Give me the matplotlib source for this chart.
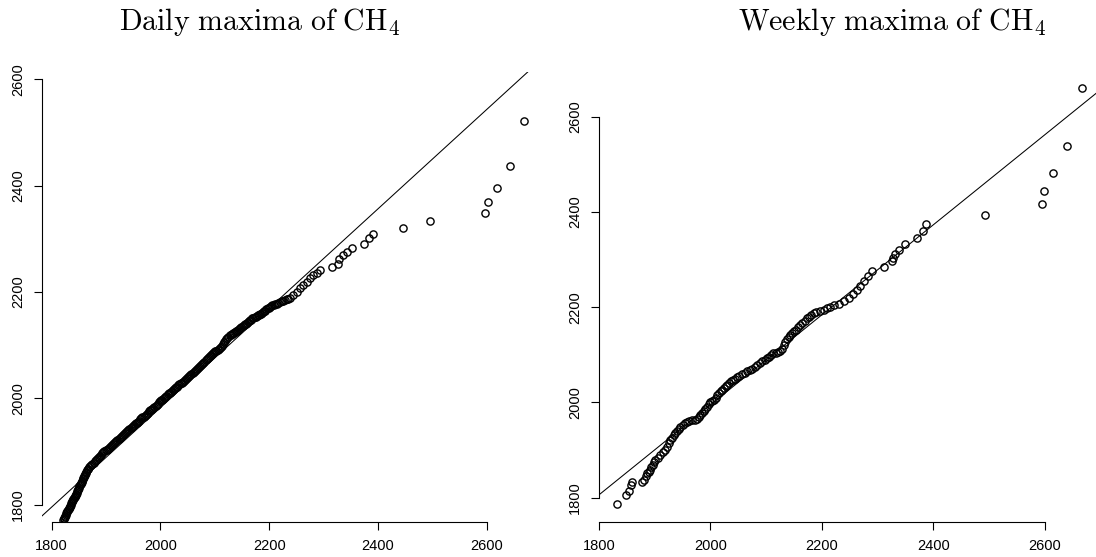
import matplotlib
matplotlib.use("Agg")
import matplotlib.pyplot as plt

# ---- data read off the picture (sorted model vs empirical quantiles) ----
# daily maxima, x = model quantile, y = empirical quantile
daily_x = [
    1821, 1822, 1823, 1824, 1825, 1826, 1827, 1828, 1829, 1830,
    1831, 1832, 1833, 1834, 1835, 1836, 1837, 1838, 1839, 1840,
    1841, 1842, 1843, 1844, 1845, 1846, 1847, 1848, 1849, 1850,
    1851, 1852, 1853, 1854, 1855, 1856, 1857, 1858, 1859, 1860,
    1861, 1862, 1863, 1864, 1865, 1866, 1867,
    1869, 1871, 1873, 1875, 1877, 1879, 1881, 1883, 1885, 1887,
    1889, 1891, 1893, 1895, 1897, 1899, 1901, 1903, 1905, 1907,
    1909, 1911,
    1913, 1915, 1917, 1919, 1921, 1923, 1925, 1927, 1929, 1931,
    1933, 1935, 1937, 1939, 1941, 1943, 1945, 1947, 1949, 1951,
    1953, 1955, 1957, 1959, 1961, 1963, 1965, 1967, 1969, 1971,
    1973, 1975, 1977, 1979, 1981, 1983, 1985, 1987, 1989, 1991,
    1993, 1995, 1997, 1999, 2001, 2003, 2005, 2007, 2009, 2011,
    2013, 2015, 2017, 2019, 2021, 2023, 2025, 2027, 2029, 2031,
    2033, 2035, 2037, 2039, 2041, 2043, 2045, 2047, 2049, 2051,
    2053, 2055, 2057, 2059, 2061, 2063, 2065, 2067, 2069, 2071,
    2073, 2075, 2077, 2079, 2081, 2083, 2085, 2087, 2089, 2091,
    2093, 2095, 2097, 2099, 2101, 2103, 2105, 2107, 2109, 2111,
    2113, 2115, 2117, 2119, 2121, 2123, 2125, 2127, 2129, 2131,
    2133, 2135, 2137, 2139, 2141, 2143, 2145, 2147, 2149, 2151,
    2153, 2155, 2157, 2159, 2161, 2163, 2165, 2167, 2169, 2171,
    2173, 2175, 2177, 2179, 2181, 2183, 2185, 2187, 2189, 2191,
    2193, 2195, 2197, 2199, 2201, 2203, 2205, 2208, 2211, 2214,
    2217, 2220, 2223, 2226, 2229, 2232, 2235,
    2238, 2244, 2251, 2257, 2263, 2269, 2275, 2281, 2287, 2293,
    2316, 2327, 2329, 2335, 2343, 2352, 2375, 2384, 2390, 2446,
    2496, 2597, 2603, 2618, 2643, 2669,
]
daily_y = [
    1771, 1773, 1775, 1777, 1779, 1781, 1784, 1786, 1788, 1790,
    1792, 1794, 1796, 1798, 1800, 1802, 1804, 1806, 1808, 1810,
    1812, 1814, 1816, 1818, 1820, 1822, 1825, 1827, 1829, 1832,
    1834, 1836, 1839, 1841, 1843, 1845, 1848, 1850, 1852, 1854,
    1856, 1858, 1860, 1862, 1864, 1866, 1867,
    1870, 1872, 1874, 1877, 1879, 1881, 1883, 1885, 1887, 1889,
    1892, 1894, 1896, 1898, 1900, 1902, 1903, 1905, 1907, 1908,
    1910, 1912,
    1914, 1916, 1918, 1919, 1921, 1923, 1925, 1927, 1929, 1931,
    1933, 1934, 1936, 1938, 1940, 1942, 1944, 1945, 1947, 1949,
    1951, 1953, 1954, 1956, 1958, 1960, 1962, 1964, 1965, 1967,
    1969, 1971, 1973, 1975, 1977, 1978, 1980, 1982, 1984, 1986,
    1988, 1990, 1992, 1994, 1996, 1997, 1999, 2001, 2003, 2005,
    2007, 2009, 2010, 2012, 2014, 2016, 2017, 2019, 2021, 2022,
    2024, 2026, 2028, 2029, 2031, 2033, 2034, 2036, 2038, 2040,
    2042, 2044, 2046, 2048, 2050, 2052, 2054, 2055, 2057, 2059,
    2061, 2063, 2065, 2067, 2069, 2071, 2073, 2075, 2077, 2079,
    2081, 2083, 2085, 2086, 2088, 2089, 2091, 2092, 2094, 2096,
    2099, 2102, 2105, 2108, 2111, 2114, 2116, 2118, 2119, 2120,
    2122, 2123, 2124, 2126, 2127, 2128, 2130, 2132, 2134, 2135,
    2137, 2139, 2140, 2142, 2144, 2146, 2147, 2148, 2150, 2151,
    2152, 2153, 2154, 2156, 2157, 2158, 2159, 2160, 2162, 2164,
    2165, 2167, 2169, 2170, 2172, 2173, 2175, 2176, 2177, 2178,
    2180, 2181, 2182, 2183, 2185, 2186, 2187,
    2188, 2194, 2200, 2207, 2213, 2219, 2226, 2232, 2236, 2241,
    2246, 2253, 2261, 2269, 2275, 2283, 2290, 2301, 2309, 2320,
    2333, 2349, 2369, 2396, 2436, 2522,
]

# weekly maxima
weekly_x = [
    1833, 1849, 1853, 1858, 1860, 1878, 1881, 1884, 1886, 1889,
    1892, 1894, 1896, 1899, 1901, 1905, 1910, 1914, 1918, 1922,
    1925, 1928, 1931, 1934, 1937, 1940, 1943, 1946, 1950, 1954,
    1958, 1962, 1967, 1972, 1976, 1979, 1982, 1985, 1988, 1991,
    1994, 1997, 2000, 2003, 2006, 2009, 2012, 2015, 2018, 2021,
    2024, 2027, 2030, 2033, 2036, 2040, 2044, 2048, 2052, 2056,
    2061, 2066, 2070, 2074, 2079, 2084, 2088, 2093, 2097, 2101,
    2105, 2109, 2113, 2117, 2121, 2125, 2128, 2131, 2134, 2137,
    2140, 2143, 2146, 2149, 2153, 2157, 2161, 2165, 2169, 2173,
    2177, 2181, 2185, 2190, 2197, 2204, 2209, 2215, 2222, 2230,
    2239, 2248, 2255, 2263, 2269, 2275, 2282, 2290, 2312, 2325,
    2327, 2331, 2339, 2349, 2371, 2381, 2387, 2493, 2594, 2599,
    2615, 2640, 2666,
]
weekly_y = [
    1786, 1805, 1815, 1826, 1832, 1834, 1838, 1845, 1851, 1855,
    1858, 1864, 1869, 1874, 1879, 1884, 1890, 1896, 1901, 1907,
    1914, 1921, 1926, 1931, 1935, 1940, 1945, 1949, 1953, 1957,
    1960, 1962, 1963, 1964, 1965, 1969, 1973, 1977, 1982, 1987,
    1991, 1996, 2000, 2004, 2005, 2010, 2015, 2019, 2023, 2026,
    2030, 2034, 2037, 2040, 2044, 2047, 2050, 2053, 2056, 2059,
    2062, 2065, 2068, 2071, 2075, 2079, 2082, 2086, 2089, 2093,
    2096, 2099, 2103, 2104, 2105, 2107, 2113, 2121, 2127, 2133,
    2138, 2142, 2145, 2149, 2153, 2158, 2163, 2167, 2172, 2177,
    2180, 2184, 2187, 2189, 2191, 2195, 2198, 2201, 2204, 2207,
    2212, 2219, 2227, 2236, 2245, 2254, 2265, 2275, 2284, 2296,
    2303, 2311, 2320, 2333, 2345, 2359, 2375, 2394, 2416, 2444,
    2481, 2539, 2661,
]

# reference lines (intercept, slope)
daily_line = (112.2, 0.935)
weekly_line = (104.1, 0.9455)

ticks = [1800, 2000, 2200, 2400, 2600]
titles = [r"$\mathrm{Daily\ maxima\ of\ CH}_4$", r"$\mathrm{Weekly\ maxima\ of\ CH}_4$"]

plt.rcParams["font.family"] = ["Liberation Sans", "DejaVu Sans"]
plt.rcParams["mathtext.fontset"] = "cm"

W, H = 1096, 557
fig = plt.figure(figsize=(W / 100, H / 100), dpi=100)


def px_axes(left, right, top, bottom):
    # axes box given in pixels of the output image
    return fig.add_axes([left / W, 1 - bottom / H, (right - left) / W, (bottom - top) / H])


ax1 = px_axes(42, 543, 72, 522)
ax1.set_xlim(1782.2, 2703.5)
ax1.set_ylim(1767.1, 2613.7)

ax2 = px_axes(599, 1100, 72, 521.7)
ax2.set_xlim(1800.9, 2698.7)
ax2.set_ylim(1749.6, 2693.9)

panels = [
    (ax1, daily_x, daily_y, daily_line),
    (ax2, weekly_x, weekly_y, weekly_line),
]

for ax, xs, ys, (a, b) in panels:
    ax.plot(xs, ys, ls="none", marker="o", ms=5.2, mfc="none", mec="black", mew=1.0)
    ax.axline((1800, a + b * 1800), slope=b, color="black", lw=0.75)

    ax.spines["top"].set_visible(False)
    ax.spines["right"].set_visible(False)
    for s in ("left", "bottom"):
        ax.spines[s].set_bounds(1800, 2600)
        ax.spines[s].set_linewidth(0.8)
    ax.set_xticks(ticks)
    ax.set_yticks(ticks)
    ax.tick_params(direction="out", length=5.8, width=0.8, labelsize=10.5, pad=6.5)
    for lbl in ax.get_yticklabels():
        lbl.set_rotation(90)
        lbl.set_va("center")
    ax.patch.set_visible(False)

fig.text(260 / W, 1 - 22 / H, titles[0], ha="center", va="center", fontsize=21.5)
fig.text(892 / W, 1 - 22 / H, titles[1], ha="center", va="center", fontsize=21.5)

fig.savefig("out.png", dpi=100)
